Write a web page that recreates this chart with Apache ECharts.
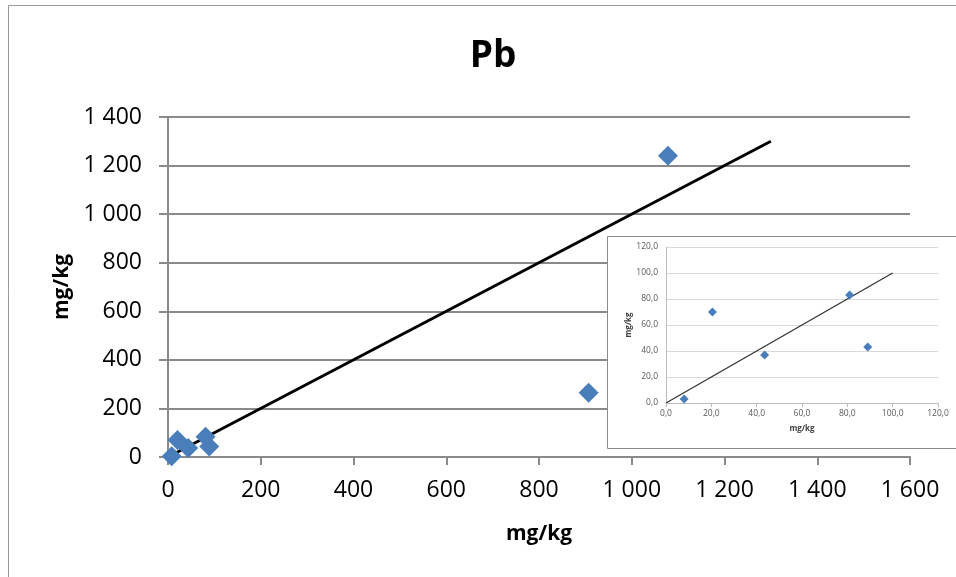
<!DOCTYPE html>
<html>
<head>
<meta charset="utf-8">
<script src="https://cdn.jsdelivr.net/npm/echarts@6/dist/echarts.min.js"></script>
<style>
  html, body { margin: 0; padding: 0; background: #fff; }
  #chart { width: 956px; height: 577px; }
</style>
</head>
<body>
<div id="chart"></div>
<script>
// Pb: measured values (mg/kg) vs. reference values (mg/kg)
const pbX = [8, 20.5, 43.5, 81, 89, 907, 1078];
const pbY = [3, 70, 37, 83, 43, 265, 1240];

// 1:1 line endpoints for the main plot and the low-range detail plot
const mainLineX = [0, 1300];
const detailLineX = [0, 100];

// Axis ranges
const mainXMax = 1600, mainYMax = 1400, mainStep = 200;
const detailMax = 120, detailStep = 20;

const points = pbX.map((x, i) => [x, pbY[i]]);
const detailPoints = points.filter(p => p[0] <= detailMax && p[1] <= detailMax);

const thousands = v => String(v).replace(/\B(?=(\d{3})+(?!\d))/g, ' ');
const oneDecimal = v => v.toFixed(1).replace('.', ',');

const FONT = '"Open Sans", "Liberation Sans", sans-serif';
const BLUE = '#4a7ebb';

const chart = echarts.init(document.getElementById('chart'), null, { renderer: 'canvas' });

chart.setOption({
  animation: false,
  backgroundColor: '#fff',
  title: {
    text: 'Pb',
    left: 488,
    top: 33,
    textAlign: 'center',
    textStyle: { fontFamily: FONT, fontWeight: 'bold', fontSize: 37, color: '#000' }
  },
  graphic: [
    {
      type: 'rect', z: -10,
      shape: { x: 8.5, y: 5.5, width: 980, height: 620 },
      style: { fill: '#fff', stroke: '#9a9a9a', lineWidth: 1 }
    },
    {
      type: 'rect', z: 5,
      shape: { x: 607.5, y: 236.5, width: 380, height: 212 },
      style: { fill: '#fff', stroke: '#8c8c8c', lineWidth: 1 }
    }
  ],
  grid: [
    { left: 168, right: 46, top: 117, bottom: 120 },
    { left: 666, right: 18, top: 247, bottom: 174 }
  ],
  xAxis: [
    {
      gridIndex: 0, type: 'value', min: 0, max: mainXMax, interval: mainStep,
      name: 'mg/kg', nameLocation: 'middle', nameGap: 67,
      nameTextStyle: { fontFamily: FONT, fontWeight: 'bold', fontSize: 21, color: '#000' },
      axisLine: { onZero: false, lineStyle: { color: '#8a8a8a', width: 2 } },
      axisTick: { show: true, length: 8, lineStyle: { color: '#8a8a8a', width: 2 } },
      axisLabel: { margin: 22, fontFamily: FONT, fontSize: 23, color: '#000', formatter: thousands },
      splitLine: { show: false }
    },
    {
      gridIndex: 1, type: 'value', min: 0, max: detailMax, interval: detailStep, z: 10,
      name: 'mg/kg', nameLocation: 'middle', nameGap: 22,
      nameTextStyle: { fontFamily: FONT, fontWeight: 'bold', fontSize: 8, color: '#404040' },
      axisLine: { onZero: false, lineStyle: { color: '#bdbdbd', width: 1 } },
      axisTick: { show: true, length: 4, lineStyle: { color: '#bdbdbd' } },
      axisLabel: { margin: 6, fontFamily: FONT, fontSize: 8.5, color: '#595959', formatter: oneDecimal },
      splitLine: { show: false }
    }
  ],
  yAxis: [
    {
      gridIndex: 0, type: 'value', min: 0, max: mainYMax, interval: mainStep,
      name: 'mg/kg', nameLocation: 'middle', nameGap: 70,
      nameTextStyle: { fontFamily: FONT, fontWeight: 'bold', fontSize: 21, color: '#000' },
      axisLine: { show: true, onZero: false, lineStyle: { color: '#8a8a8a', width: 2 } },
      axisTick: { show: true, length: 9, lineStyle: { color: '#8a8a8a', width: 2 } },
      axisLabel: { margin: 26, fontFamily: FONT, fontSize: 23, color: '#000', formatter: thousands },
      splitLine: { show: true, lineStyle: { color: '#8a8a8a', width: 2 } }
    },
    {
      gridIndex: 1, type: 'value', min: 0, max: detailMax, interval: detailStep, z: 10,
      name: 'mg/kg', nameLocation: 'middle', nameGap: 32,
      nameTextStyle: { fontFamily: FONT, fontWeight: 'bold', fontSize: 8, color: '#404040' },
      axisLine: { show: true, onZero: false, lineStyle: { color: '#bdbdbd', width: 1 } },
      axisTick: { show: false },
      axisLabel: { margin: 8, fontFamily: FONT, fontSize: 8.5, color: '#595959', formatter: oneDecimal },
      splitLine: { show: true, lineStyle: { color: '#d9d9d9', width: 1 } }
    }
  ],
  series: [
    {
      type: 'line', xAxisIndex: 0, yAxisIndex: 0,
      data: mainLineX.map(v => [v, v]),
      symbol: 'none', lineStyle: { color: '#000', width: 3 }, z: 2
    },
    {
      type: 'scatter', xAxisIndex: 0, yAxisIndex: 0,
      data: points, symbol: 'diamond', symbolSize: 20,
      itemStyle: { color: BLUE, opacity: 1 }, z: 3
    },
    {
      type: 'line', xAxisIndex: 1, yAxisIndex: 1,
      data: detailLineX.map(v => [v, v]),
      symbol: 'none', lineStyle: { color: '#303030', width: 1.2 }, z: 12
    },
    {
      type: 'scatter', xAxisIndex: 1, yAxisIndex: 1,
      data: detailPoints, symbol: 'diamond', symbolSize: 9,
      itemStyle: { color: BLUE, opacity: 1 }, z: 13
    }
  ]
});
</script>
</body>
</html>
